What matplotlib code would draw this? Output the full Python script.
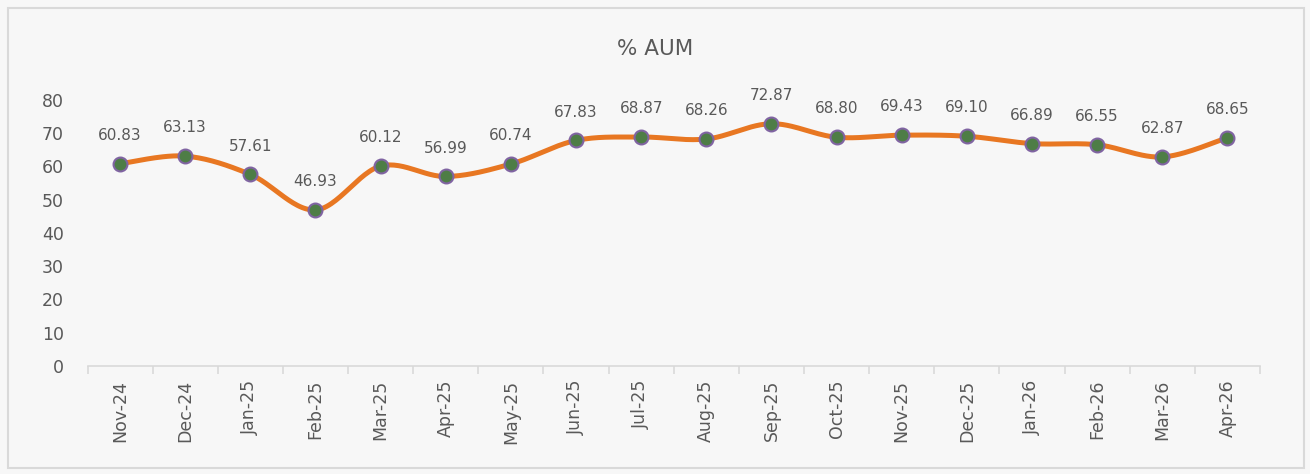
import matplotlib.pyplot as plt
import matplotlib.patches as patches
import numpy as np

months = ["Nov-24", "Dec-24", "Jan-25", "Feb-25", "Mar-25", "Apr-25", "May-25", "Jun-25", "Jul-25",
          "Aug-25", "Sep-25", "Oct-25", "Nov-25", "Dec-25", "Jan-26", "Feb-26", "Mar-26", "Apr-26"]
aum = [60.83, 63.13, 57.61, 46.93, 60.12, 56.99, 60.74, 67.83, 68.87,
       68.26, 72.87, 68.80, 69.43, 69.10, 66.89, 66.55, 62.87, 68.65]

plt.rcParams['font.family'] = ['DejaVu Sans']
text_col = "#595959"


def smooth(xs, ys, n=30):
    # Excel-style smoothed line: cubic bezier per segment
    xs = np.asarray(xs, float)
    ys = np.asarray(ys, float)
    px = np.concatenate([[xs[0]], xs, [xs[-1]]])
    py = np.concatenate([[ys[0]], ys, [ys[-1]]])
    outx, outy = [], []
    t = np.linspace(0, 1, n)
    for i in range(len(xs) - 1):
        p0 = np.array([px[i + 1], py[i + 1]])
        p3 = np.array([px[i + 2], py[i + 2]])
        c1 = p0 + (p3 - np.array([px[i], py[i]])) / 6
        c2 = p3 - (np.array([px[i + 3], py[i + 3]]) - p0) / 6
        b = ((1 - t) ** 3)[:, None] * p0 + (3 * (1 - t) ** 2 * t)[:, None] * c1 \
            + (3 * (1 - t) * t ** 2)[:, None] * c2 + (t ** 3)[:, None] * p3
        outx.extend(b[:, 0])
        outy.extend(b[:, 1])
    return outx, outy


fig = plt.figure(figsize=(13.1, 4.74), dpi=100, facecolor="#F7F7F7")
fig.patches.append(patches.Rectangle((8 / 1310, 6 / 474), 1296 / 1310, 460 / 474,
                                     transform=fig.transFigure, fill=False,
                                     edgecolor="#D9D9D9", linewidth=1.5))

ax = fig.add_axes([0.0668, 0.228, 0.895, 0.561])
ax.set_facecolor("#F7F7F7")

x = np.arange(len(months))
sx, sy = smooth(x, aum)
ax.plot(sx, sy, color="#E87722", linewidth=3.6, solid_capstyle='round', zorder=2)
ax.plot(x, aum, linestyle='none', marker='o', markersize=10,
        markerfacecolor="#4E7D46", markeredgecolor="#8064A2", markeredgewidth=1.5, zorder=3)

for xi, v in zip(x, aum):
    ax.annotate(f"{v:.2f}", (xi, v), xytext=(0, 15), textcoords='offset points',
                ha='center', va='bottom', fontsize=11, color=text_col)

ax.set_xlim(-0.5, len(months) - 0.5)
ax.set_ylim(0, 80)
ax.set_yticks(range(0, 81, 10))
ax.set_xticks(x)
ax.set_xticklabels(months, rotation=90, fontsize=12.5, color=text_col)
ax.set_xticks(np.arange(-0.5, len(months), 1), minor=True)
ax.tick_params(axis='x', which='major', length=0, pad=10)
ax.tick_params(axis='x', which='minor', length=6, color="#D9D9D9", width=1.2)
ax.tick_params(axis='y', length=0, labelsize=12.5, labelcolor=text_col, pad=17)

for s in ['top', 'right', 'left']:
    ax.spines[s].set_visible(False)
ax.spines['bottom'].set_color("#D9D9D9")
ax.spines['bottom'].set_linewidth(1.2)

fig.text(0.5, 0.896, "% AUM", ha='center', va='center', fontsize=15.5, color=text_col)

fig.savefig("out.png", dpi=100, facecolor=fig.get_facecolor())
